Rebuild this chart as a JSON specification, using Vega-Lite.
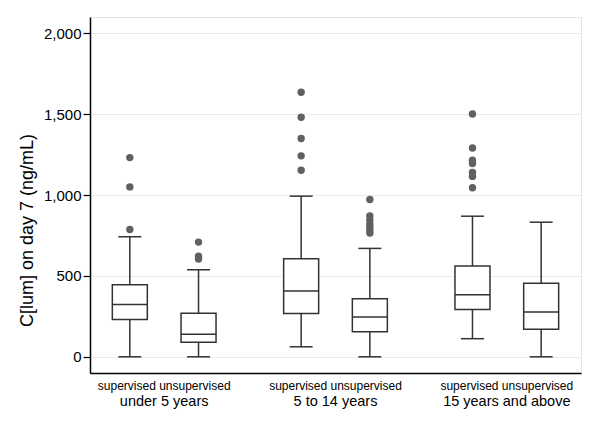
{
  "$schema": "https://vega.github.io/schema/vega-lite/v6.json",
  "width": 491,
  "height": 356,
  "autosize": {"type": "none"},
  "padding": {"left": 90, "top": 17, "right": 19, "bottom": 65},
  "background": "white",
  "datasets": {
    "stats": [
      {"group": "under 5 years", "supervision": "supervised", "lo": 0, "q1": 231, "median": 324, "q3": 446, "hi": 742},
      {"group": "under 5 years", "supervision": "unsupervised", "lo": 0, "q1": 90, "median": 139, "q3": 270, "hi": 538},
      {"group": "5 to 14 years", "supervision": "supervised", "lo": 62, "q1": 268, "median": 406, "q3": 606, "hi": 993},
      {"group": "5 to 14 years", "supervision": "unsupervised", "lo": 0, "q1": 155, "median": 246, "q3": 359, "hi": 670},
      {"group": "15 years and above", "supervision": "supervised", "lo": 112, "q1": 293, "median": 384, "q3": 561, "hi": 869},
      {"group": "15 years and above", "supervision": "unsupervised", "lo": 0, "q1": 170, "median": 277, "q3": 454, "hi": 832}
    ],
    "outliers": [
      {"group": "under 5 years", "supervision": "supervised", "value": 1231},
      {"group": "under 5 years", "supervision": "supervised", "value": 1050},
      {"group": "under 5 years", "supervision": "supervised", "value": 787},
      {"group": "under 5 years", "supervision": "unsupervised", "value": 709},
      {"group": "under 5 years", "supervision": "unsupervised", "value": 622},
      {"group": "under 5 years", "supervision": "unsupervised", "value": 605},
      {"group": "5 to 14 years", "supervision": "supervised", "value": 1635},
      {"group": "5 to 14 years", "supervision": "supervised", "value": 1480},
      {"group": "5 to 14 years", "supervision": "supervised", "value": 1349},
      {"group": "5 to 14 years", "supervision": "supervised", "value": 1242},
      {"group": "5 to 14 years", "supervision": "supervised", "value": 1153},
      {"group": "5 to 14 years", "supervision": "unsupervised", "value": 972},
      {"group": "5 to 14 years", "supervision": "unsupervised", "value": 870},
      {"group": "5 to 14 years", "supervision": "unsupervised", "value": 845},
      {"group": "5 to 14 years", "supervision": "unsupervised", "value": 820},
      {"group": "5 to 14 years", "supervision": "unsupervised", "value": 800},
      {"group": "5 to 14 years", "supervision": "unsupervised", "value": 780},
      {"group": "5 to 14 years", "supervision": "unsupervised", "value": 765},
      {"group": "15 years and above", "supervision": "supervised", "value": 1501},
      {"group": "15 years and above", "supervision": "supervised", "value": 1290},
      {"group": "15 years and above", "supervision": "supervised", "value": 1215},
      {"group": "15 years and above", "supervision": "supervised", "value": 1195},
      {"group": "15 years and above", "supervision": "supervised", "value": 1140},
      {"group": "15 years and above", "supervision": "supervised", "value": 1115},
      {"group": "15 years and above", "supervision": "supervised", "value": 1045}
    ]
  },
  "layer": [
    {
      "data": {"name": "stats"},
      "mark": {"type": "rule", "color": "#333333", "strokeWidth": 1.5},
      "encoding": {
        "x": {
          "field": "group", "type": "nominal",
          "sort": ["under 5 years", "5 to 14 years", "15 years and above"],
          "scale": {"paddingInner": 0.198, "paddingOuter": 0.032},
          "title": null,
          "axis": {
            "orient": "bottom",
            "labelExpr": "'supervised unsupervised'",
            "labelFontSize": 12,
            "labelPadding": 7,
            "ticks": false,
            "tickSize": 0,
            "domain": true,
            "grid": false,
            "labelAngle": 0
          }
        },
        "xOffset": {
          "field": "supervision", "type": "nominal",
          "sort": ["supervised", "unsupervised"],
          "scale": {"paddingInner": 0, "paddingOuter": 0}
        },
        "y": {
          "field": "lo", "type": "quantitative",
          "scale": {"domain": [-100, 2100], "nice": false, "zero": false},
          "axis": {"title": "C[lum] on day 7 (ng/mL)", "values": [0, 500, 1000, 1500, 2000], "format": ",.0f", "grid": true}
        },
        "y2": {"field": "hi"}
      }
    },
    {
      "data": {"name": "stats"},
      "mark": {"type": "bar", "size": 35, "fill": "white", "stroke": "#333333", "strokeWidth": 1.5},
      "encoding": {
        "x": {
          "field": "group", "type": "nominal",
          "sort": ["under 5 years", "5 to 14 years", "15 years and above"],
          "title": null,
          "axis": {
            "orient": "bottom",
            "labelFontSize": 14.5,
            "labelPadding": 21,
            "ticks": false,
            "tickSize": 0,
            "domain": false,
            "grid": false,
            "labelAngle": 0
          }
        },
        "xOffset": {"field": "supervision", "type": "nominal", "sort": ["supervised", "unsupervised"]},
        "y": {"field": "q1", "type": "quantitative", "axis": {"title": "C[lum] on day 7 (ng/mL)", "values": [0, 500, 1000, 1500, 2000], "format": ",.0f", "grid": true}},
        "y2": {"field": "q3"}
      }
    },
    {
      "data": {"name": "stats"},
      "mark": {"type": "tick", "size": 35, "thickness": 1.5, "color": "#333333", "opacity": 1},
      "encoding": {
        "x": {"field": "group", "type": "nominal", "sort": ["under 5 years", "5 to 14 years", "15 years and above"], "axis": null},
        "xOffset": {"field": "supervision", "type": "nominal", "sort": ["supervised", "unsupervised"]},
        "y": {"field": "median", "type": "quantitative", "axis": {"title": "C[lum] on day 7 (ng/mL)", "values": [0, 500, 1000, 1500, 2000], "format": ",.0f", "grid": true}}
      }
    },
    {
      "data": {"name": "stats"},
      "mark": {"type": "tick", "size": 23, "thickness": 1.5, "color": "#333333", "opacity": 1},
      "encoding": {
        "x": {"field": "group", "type": "nominal", "sort": ["under 5 years", "5 to 14 years", "15 years and above"], "axis": null},
        "xOffset": {"field": "supervision", "type": "nominal", "sort": ["supervised", "unsupervised"]},
        "y": {"field": "lo", "type": "quantitative", "axis": {"title": "C[lum] on day 7 (ng/mL)", "values": [0, 500, 1000, 1500, 2000], "format": ",.0f", "grid": true}}
      }
    },
    {
      "data": {"name": "stats"},
      "mark": {"type": "tick", "size": 23, "thickness": 1.5, "color": "#333333", "opacity": 1},
      "encoding": {
        "x": {"field": "group", "type": "nominal", "sort": ["under 5 years", "5 to 14 years", "15 years and above"], "axis": null},
        "xOffset": {"field": "supervision", "type": "nominal", "sort": ["supervised", "unsupervised"]},
        "y": {"field": "hi", "type": "quantitative", "axis": {"title": "C[lum] on day 7 (ng/mL)", "values": [0, 500, 1000, 1500, 2000], "format": ",.0f", "grid": true}}
      }
    },
    {
      "data": {"name": "outliers"},
      "mark": {"type": "circle", "size": 55, "color": "#606060", "opacity": 1},
      "encoding": {
        "x": {"field": "group", "type": "nominal", "sort": ["under 5 years", "5 to 14 years", "15 years and above"], "axis": null},
        "xOffset": {"field": "supervision", "type": "nominal", "sort": ["supervised", "unsupervised"]},
        "y": {"field": "value", "type": "quantitative", "axis": {"title": "C[lum] on day 7 (ng/mL)", "values": [0, 500, 1000, 1500, 2000], "format": ",.0f", "grid": true}}
      }
    }
  ],
  "resolve": {"axis": {"x": "independent"}},
  "config": {
    "font": "Liberation Sans",
    "view": {"stroke": "#e4e4e4", "strokeWidth": 1},
    "axis": {
      "domainColor": "#000000",
      "domainWidth": 1.5,
      "labelColor": "#000000",
      "titleColor": "#000000",
      "tickColor": "#000000",
      "tickWidth": 1.2,
      "gridColor": "#ebebeb",
      "gridWidth": 1,
      "labelFont": "Liberation Sans",
      "titleFont": "Liberation Sans",
      "titleFontWeight": "normal"
    },
    "axisY": {
      "labelFontSize": 15,
      "tickSize": 7,
      "labelPadding": 2,
      "titleFontSize": 18,
      "titlePadding": 7,
      "titleY": 213
    }
  }
}
